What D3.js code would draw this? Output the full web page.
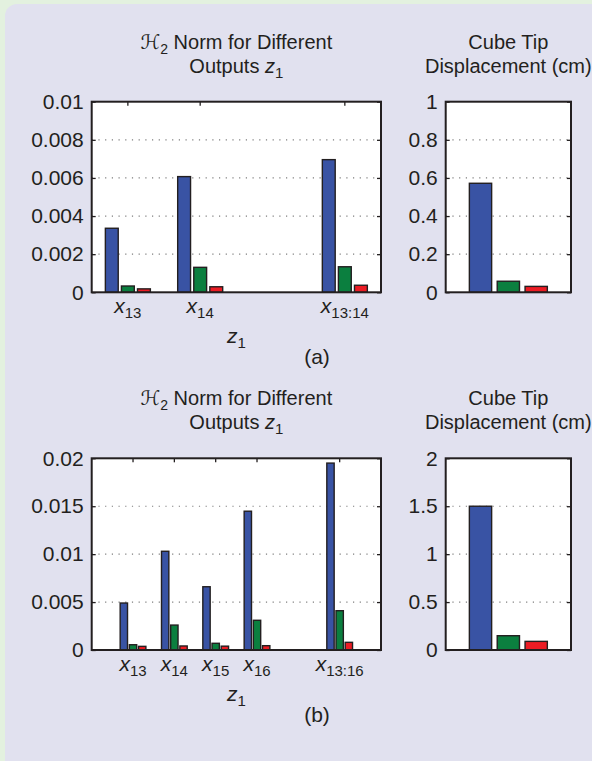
<!DOCTYPE html>
<html>
<head>
<meta charset="utf-8">
<script src="https://cdn.jsdelivr.net/npm/d3@7"></script>
<style>
  body { margin: 0; }
  svg { display: block; }
  text { font-family: "Liberation Sans", Arial, sans-serif; fill: #231f20; }
</style>
</head>
<body>
<script>
// categories: subscripts of the x labels, '' is an empty slot
var catsA = ['13', '14', '', '13:14'];
var catsB = ['13', '14', '15', '16', '', '13:16'];

// H2 norm, three bars per category (blue, green, red)
var normA1 = [0.00336, 0.00607, null, 0.00696];
var normA2 = [0.00033, 0.00131, null, 0.00134];
var normA3 = [0.00018, 0.00029, null, 0.00037];

var normB1 = [0.0049, 0.0103, 0.0066, 0.01448, null, 0.0195];
var normB2 = [0.00055, 0.0026, 0.0007, 0.0031, null, 0.0041];
var normB3 = [0.00038, 0.00042, 0.0004, 0.00045, null, 0.0008];

// cube tip displacement (cm)
var tipA = [0.572, 0.058, 0.031];
var tipB = [1.5, 0.149, 0.09];

var colors = ['#3953a4', '#0b7f3f', '#ec1c24'];
var ink = '#231f20';
var fs = 21;   // tick and axis labels
var ts = 20;   // titles

var W = 592, H = 761;
var svg = d3.select('body').append('svg')
  .attr('width', W)
  .attr('height', H);

svg.append('rect').attr('width', W).attr('height', H).attr('fill', '#e3f1df');
svg.append('rect')
  .attr('x', 5).attr('y', 4)
  .attr('width', 620).attr('height', 800)
  .attr('rx', 12)
  .attr('fill', '#e1e1ef');

// text with a subscript, e.g. x_13
function subText(g, x, y, pre, main, sub, size) {
  var t = g.append('text')
    .attr('x', x).attr('y', y)
    .attr('text-anchor', 'middle')
    .attr('font-size', size || fs);
  if (pre) t.append('tspan').text(pre);
  t.append('tspan').attr('font-style', 'italic').text(main);
  t.append('tspan').attr('font-size', 15).attr('dy', 5).text(sub);
  return t;
}

/**
  * one boxed bar plot, series = list of arrays (one per colour)
  */
function barPlot(box, cats, series, yMax, nTicks, outer, opts) {
  var g = svg.append('g');

  var x0 = d3.scaleBand()
    .domain(cats)
    .range([box.l, box.r])
    .paddingInner(0)
    .paddingOuter(outer);

  var x1 = d3.scaleBand()
    .domain(d3.range(series.length))
    .range([0, x0.bandwidth() * 2 / 3])
    .paddingInner(0.2)
    .paddingOuter(0.1);

  var y = d3.scaleLinear().domain([0, yMax]).range([box.b, box.t]);
  var ticks = y.ticks(nTicks);

  g.append('rect')
    .attr('x', box.l).attr('y', box.t)
    .attr('width', box.r - box.l).attr('height', box.b - box.t)
    .attr('fill', '#fff');

  // dotted grid
  g.selectAll('line.grid')
    .data(ticks.filter(d => d > 0 && d < yMax))
    .enter()
    .append('line')
      .attr('class', 'grid')
      .attr('x1', box.l).attr('x2', box.r)
      .attr('y1', d => y(d)).attr('y2', d => y(d))
      .attr('stroke', '#7d7d7d')
      .attr('stroke-width', 1.2)
      .attr('stroke-dasharray', '1.2,5.5');

  series.forEach((vals, s) => {
    g.selectAll('rect.s' + s)
      .data(vals.map((v, i) => ({ v: v, c: cats[i] })).filter(d => d.v != null))
      .enter()
      .append('rect')
        .attr('class', 's' + s)
        .attr('x', d => x0(d.c) + x0.bandwidth() / 6 + x1(s))
        .attr('y', d => y(d.v))
        .attr('width', x1.bandwidth())
        .attr('height', d => y(0) - y(d.v))
        .attr('fill', colors[s])
        .attr('stroke', ink)
        .attr('stroke-width', 1.4);
  });

  var yl = g.append('g')
    .attr('transform', 'translate(' + box.l + ',0)')
    .call(d3.axisLeft(y).tickValues(ticks).tickSizeInner(-4).tickSizeOuter(0)
      .tickPadding(8).tickFormat(d => String(d)));
  yl.select('.domain').remove();
  yl.attr('font-size', fs).attr('color', ink);
  yl.selectAll('line').attr('stroke-width', 1.3);

  var yr = g.append('g')
    .attr('transform', 'translate(' + box.r + ',0)')
    .call(d3.axisRight(y).tickValues(ticks).tickSizeInner(-4).tickSizeOuter(0).tickFormat(''));
  yr.select('.domain').remove();
  yr.attr('color', ink);
  yr.selectAll('line').attr('stroke-width', 1.3);

  if (opts.xLabels) {
    var used = cats.filter(c => c !== '');
    var xt = g.append('g')
      .attr('transform', 'translate(0,' + box.t + ')')
      .call(d3.axisTop(x0).tickValues(used).tickSizeInner(-4)
        .tickSizeOuter(0).tickFormat(''));
    xt.select('.domain').remove();
    xt.attr('color', ink);
    xt.selectAll('line').attr('stroke-width', 1.3);

    used.forEach(c => {
      subText(g, x0(c) + x0.bandwidth() / 2, box.b + 21, null, 'x', c);
    });
    subText(g, (box.l + box.r) / 2, box.b + 51, null, 'z', '1');
  }

  g.append('rect')
    .attr('x', box.l).attr('y', box.t)
    .attr('width', box.r - box.l).attr('height', box.b - box.t)
    .attr('fill', 'none')
    .attr('stroke', ink)
    .attr('stroke-width', 2);

  // two-line title
  var cx = (box.l + box.r) / 2;
  if (opts.norm) {
    var t1 = g.append('text')
      .attr('x', cx).attr('y', box.t - 53)
      .attr('text-anchor', 'middle')
      .attr('font-size', ts);
    t1.append('tspan').attr('font-family', '"DejaVu Sans"').attr('font-style', 'italic').text('\u210B');
    t1.append('tspan').attr('font-size', 14).attr('dy', 5).text('2');
    t1.append('tspan').attr('dy', -5).text(' Norm for Different');
    subText(g, cx, box.t - 29, 'Outputs ', 'z', '1', ts);
  } else {
    g.append('text')
      .attr('x', cx).attr('y', box.t - 53)
      .attr('text-anchor', 'middle')
      .attr('font-size', ts)
      .text('Cube Tip');
    g.append('text')
      .attr('x', cx).attr('y', box.t - 29)
      .attr('text-anchor', 'middle')
      .attr('font-size', ts)
      .text('Displacement (cm)');
  }
  return g;
}

var normBoxA = { l: 91.7, r: 381, t: 101.7, b: 292.3 };
var tipBoxA = { l: 445.7, r: 571, t: 101.7, b: 292.3 };
var normBoxB = { l: 91.7, r: 381, t: 458.3, b: 650 };
var tipBoxB = { l: 445.7, r: 571, t: 458.3, b: 650 };

barPlot(normBoxA, catsA, [normA1, normA2, normA3], 0.01, 5, 0, { xLabels: true, norm: true });
barPlot(tipBoxA, ['d'], tipA.map(v => [v]), 1, 5, 0, { xLabels: false, norm: false });
barPlot(normBoxB, catsB, [normB1, normB2, normB3], 0.02, 4, 0.5, { xLabels: true, norm: true });
barPlot(tipBoxB, ['d'], tipB.map(v => [v]), 2, 4, 0, { xLabels: false, norm: false });

svg.append('text').attr('x', 317).attr('y', 364).attr('text-anchor', 'middle')
  .attr('font-size', fs).text('(a)');
svg.append('text').attr('x', 317).attr('y', 722).attr('text-anchor', 'middle')
  .attr('font-size', fs).text('(b)');
</script>
</body>
</html>
